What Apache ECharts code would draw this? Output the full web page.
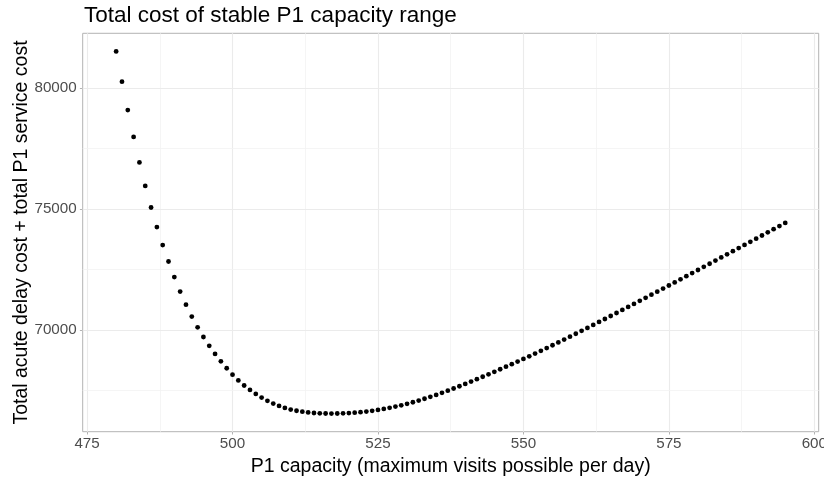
<!DOCTYPE html>
<html>
<head>
<meta charset="utf-8">
<script src="https://cdn.jsdelivr.net/npm/echarts@6/dist/echarts.min.js"></script>
<style>
html,body{margin:0;padding:0;background:#fff;}
#chart{width:824px;height:478px;}
</style>
</head>
<body>
<div id="chart"></div>
<script>
const capacity = [480,481,482,483,484,485,486,487,488,489,490,491,492,493,494,495,496,497,498,499,
500,501,502,503,504,505,506,507,508,509,510,511,512,513,514,515,516,517,518,519,
520,521,522,523,524,525,526,527,528,529,530,531,532,533,534,535,536,537,538,539,
540,541,542,543,544,545,546,547,548,549,550,551,552,553,554,555,556,557,558,559,
560,561,562,563,564,565,566,567,568,569,570,571,572,573,574,575,576,577,578,579,
580,581,582,583,584,585,586,587,588,589,590,591,592,593,594,595];
const totalCost = [81500,80250,79080,77970,76920,75950,75060,74250,73510,72830,72190,71590,71050,70560,70115,69715,69350,69015,68710,68425,
68160,67925,67715,67530,67365,67215,67083,66968,66870,66788,66722,66672,66635,66603,66580,66566,66558,66555,66558,66565,
66576,66592,66613,66639,66670,66706,66747,66793,66843,66898,66958,67023,67093,67167,67245,67327,67412,67500,67591,67684,
67779,67876,67975,68075,68177,68280,68384,68489,68595,68702,68810,68920,69032,69145,69260,69376,69493,69611,69730,69850,
69970,70091,70213,70336,70459,70582,70706,70831,70956,71081,71207,71333,71460,71587,71714,71841,71969,72097,72225,72353,
72481,72610,72739,72868,72997,73126,73255,73385,73514,73644,73774,73904,74034,74164,74294,74424];
const xTicks = [475,500,525,550,575,600];
const xMinor = [487.5,512.5,537.5,562.5,587.5];
const yTicks = [70000,75000,80000];
const yMinor = [67500,72500,77500];
const titleText = 'Total cost of stable P1 capacity range';
const xTitle = 'P1 capacity (maximum visits possible per day)';
const yTitle = 'Total acute delay cost + total P1 service cost';

const FONT = "'Liberation Sans', Arial, Helvetica, sans-serif";
function expand(arr){
  const mn = Math.min(...arr), mx = Math.max(...arr), r = mx - mn;
  return [mn - 0.05*r, mx + 0.05*r];
}
const xr = expand(capacity), yr = expand(totalCost);
const points = capacity.map((c,i)=>[c,totalCost[i]]);

const gridData = [];
xTicks.forEach(v=>gridData.push({xAxis:v, lineStyle:{color:'#EBEBEB', width:1.1}}));
xMinor.forEach(v=>gridData.push({xAxis:v, lineStyle:{color:'#F2F2F2', width:0.8}}));
yTicks.forEach(v=>gridData.push({yAxis:v, lineStyle:{color:'#EBEBEB', width:1.1}}));
yMinor.forEach(v=>gridData.push({yAxis:v, lineStyle:{color:'#F2F2F2', width:0.8}}));

const chart = echarts.init(document.getElementById('chart'), null, {renderer:'canvas'});
chart.setOption({
  animation:false,
  backgroundColor:'#ffffff',
  title:{text:titleText, left:84, top:4, padding:0,
    textStyle:{fontFamily:FONT, fontSize:22.5, fontWeight:'normal', color:'#000'}},
  grid:{left:82.7, right:5.3, top:33.3, bottom:46.3, show:true, borderColor:'#B3B3B3', borderWidth:1,
    backgroundColor:'transparent', containLabel:false, outerBoundsMode:'none'},
  xAxis:{type:'value', min:xr[0], max:xr[1],
    name:xTitle, nameLocation:'middle', nameGap:21,
    nameTextStyle:{fontFamily:FONT, fontSize:19.5, color:'#000'},
    axisLine:{show:false},
    axisTick:{show:true, length:2.8, lineStyle:{color:'#B3B3B3'}, customValues:xTicks},
    axisLabel:{fontFamily:FONT, fontSize:15.2, color:'#4D4D4D', margin:5, customValues:xTicks},
    splitLine:{show:false}},
  yAxis:{type:'value', min:yr[0], max:yr[1],
    name:yTitle, nameLocation:'middle', nameGap:51, nameRotate:90, nameMoveOverlap:false,
    nameTextStyle:{fontFamily:FONT, fontSize:19.5, color:'#000'},
    axisLine:{show:false},
    axisTick:{show:true, length:2.8, lineStyle:{color:'#B3B3B3'}, customValues:yTicks},
    axisLabel:{fontFamily:FONT, fontSize:15.2, color:'#4D4D4D', margin:6, customValues:yTicks,
      formatter:v=>String(v)},
    splitLine:{show:false}},
  series:[
    {type:'line', data:[], z:1, silent:true,
     markLine:{silent:true, z:1, symbol:'none', label:{show:false}, animation:false,
       lineStyle:{type:'solid'}, data:gridData}},
    {type:'scatter', data:points, z:10, symbol:'circle', symbolSize:4.8,
     itemStyle:{color:'#000000', opacity:1, borderWidth:0}, silent:true}
  ]
});
</script>
</body>
</html>
